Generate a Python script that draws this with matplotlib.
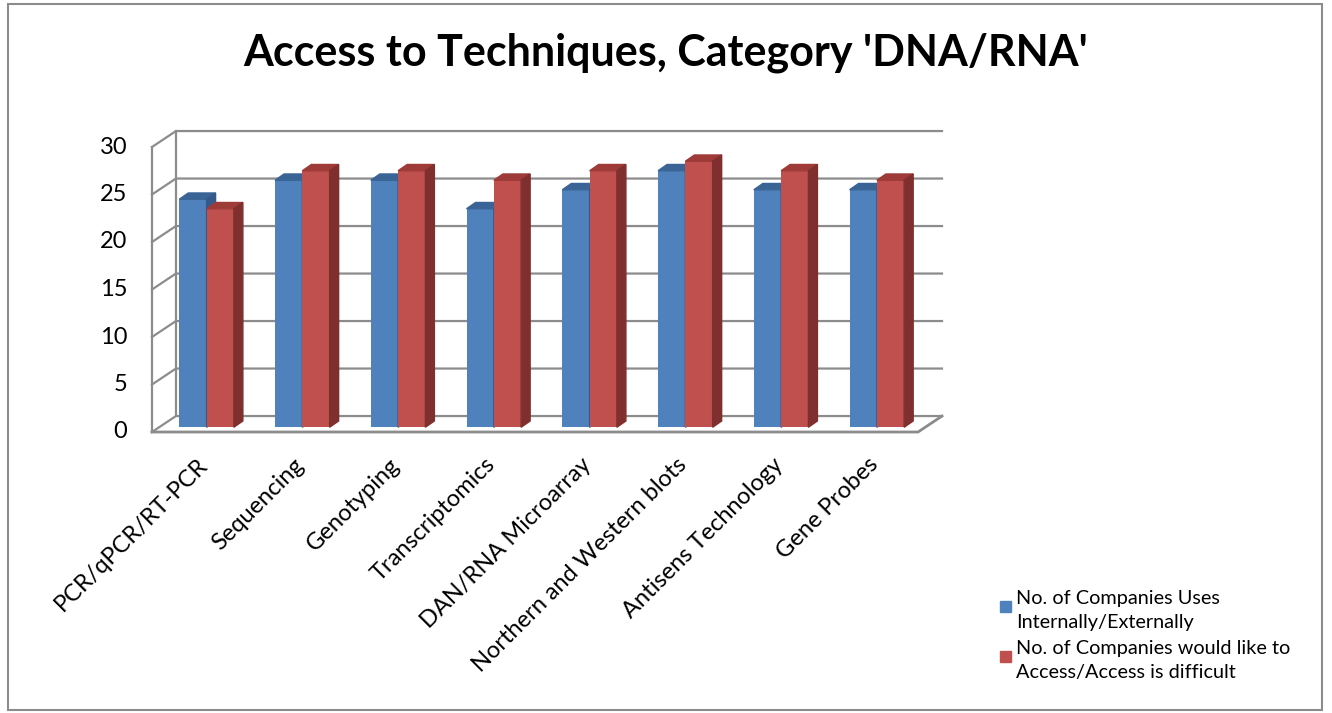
import matplotlib
matplotlib.use("Agg")
import matplotlib.pyplot as plt
from matplotlib.patches import Polygon, Rectangle

plt.rcParams["font.family"] = ["Lato", "DejaVu Sans"]

TITLE = "Access to Techniques, Category 'DNA/RNA'"
CATEGORIES = ["PCR/qPCR/RT-PCR", "Sequencing", "Genotyping", "Transcriptomics",
              "DAN/RNA Microarray", "Northern and Western blots",
              "Antisens Technology", "Gene Probes"]
USES = [24, 26, 26, 23, 25, 27, 25, 25]
WOULD_LIKE = [23, 27, 27, 26, 27, 28, 27, 26]
SERIES_NAMES = ["No. of Companies Uses\nInternally/Externally",
                "No. of Companies would like to\nAccess/Access is difficult"]
Y_TICKS = [0, 5, 10, 15, 20, 25, 30]

# front / top / side shades, Excel 2007 style
BLUE = ("#4f81bd", "#3a6496", "#335a8a")
RED = ("#c0504d", "#9e3b39", "#7f2f2e")
GRID = "#8c8c8c"

# fake 3D: back wall offset and bar depth (data units)
WALL_DX, WALL_DY = 0.25, 1.68
BAR_DX, BAR_DY = 0.094, 0.66
BAR_W = 0.285
BAR_LIFT = 0.5

W, H = 1332, 713
fig = plt.figure(figsize=(W / 100, H / 100), dpi=100)
ax = fig.add_axes([152 / W, (H - 432) / H, 790 / W, 304 / H])
ax.set_xlim(0, 8.25)
ax.set_ylim(0, 32)
ax.axis("off")

n = len(CATEGORIES)

# walls and gridlines
for v in Y_TICKS:
    ax.plot([0, WALL_DX, n + WALL_DX], [v, v + WALL_DY, v + WALL_DY],
            color=GRID, lw=1.6, clip_on=False, zorder=1)
ax.plot([0, 0], [0, Y_TICKS[-1]], color=GRID, lw=1.6, clip_on=False, zorder=1)
ax.plot([WALL_DX, WALL_DX], [WALL_DY, Y_TICKS[-1] + WALL_DY], color=GRID, lw=1.6,
        clip_on=False, zorder=1)
ax.plot([0, n, n + WALL_DX], [0, 0, WALL_DY], color=GRID, lw=2.0, clip_on=False, zorder=1)

for v in Y_TICKS:
    ax.text(-0.26, v, str(v), ha="right", va="center", fontsize=17)


def bar3d(x0, val, shades, z):
    front, top, side = shades
    ax.bar(x0, val, width=BAR_W, bottom=BAR_LIFT, align="edge", color=front,
           zorder=z, clip_on=False)
    y1 = BAR_LIFT + val
    x1 = x0 + BAR_W
    ax.add_patch(Polygon([(x0, y1), (x1, y1), (x1 + BAR_DX, y1 + BAR_DY),
                          (x0 + BAR_DX, y1 + BAR_DY)], closed=True, color=top,
                         zorder=z, clip_on=False))
    ax.add_patch(Polygon([(x1, BAR_LIFT), (x1 + BAR_DX, BAR_LIFT + BAR_DY),
                          (x1 + BAR_DX, y1 + BAR_DY), (x1, y1)], closed=True,
                         color=side, zorder=z, clip_on=False))


for i in range(n):
    x_blue = i + 0.285
    bar3d(x_blue, USES[i], BLUE, 3)
    bar3d(x_blue + BAR_W, WOULD_LIKE[i], RED, 4)

for i, lab in enumerate(CATEGORIES):
    ax.text(i + 0.55, -3.1, lab, rotation=45, rotation_mode="anchor",
            ha="right", va="center", fontsize=17)

fig.text(0.5, 1 - 53 / H, TITLE, ha="center", va="center", fontsize=31,
         fontweight="bold")

# legend drawn as plain figure items
for k, (name, shades) in enumerate(zip(SERIES_NAMES, [BLUE, RED])):
    ytop = 601 + k * 50
    fig.patches.append(Rectangle((1000 / W, 1 - (ytop + 11) / H), 11 / W, 11 / H,
                                 transform=fig.transFigure, color=shades[0]))
    fig.text(1016 / W, 1 - (ytop - 11) / H, name, ha="left", va="top", fontsize=14.3,
             linespacing=1.5)

# chart border
fig.patches.append(Rectangle((8 / W, 3 / H), (1322 - 8) / W, (709 - 3) / H,
                             transform=fig.transFigure, fill=False,
                             edgecolor=GRID, lw=1.5))

fig.savefig("out.png", dpi=100)
